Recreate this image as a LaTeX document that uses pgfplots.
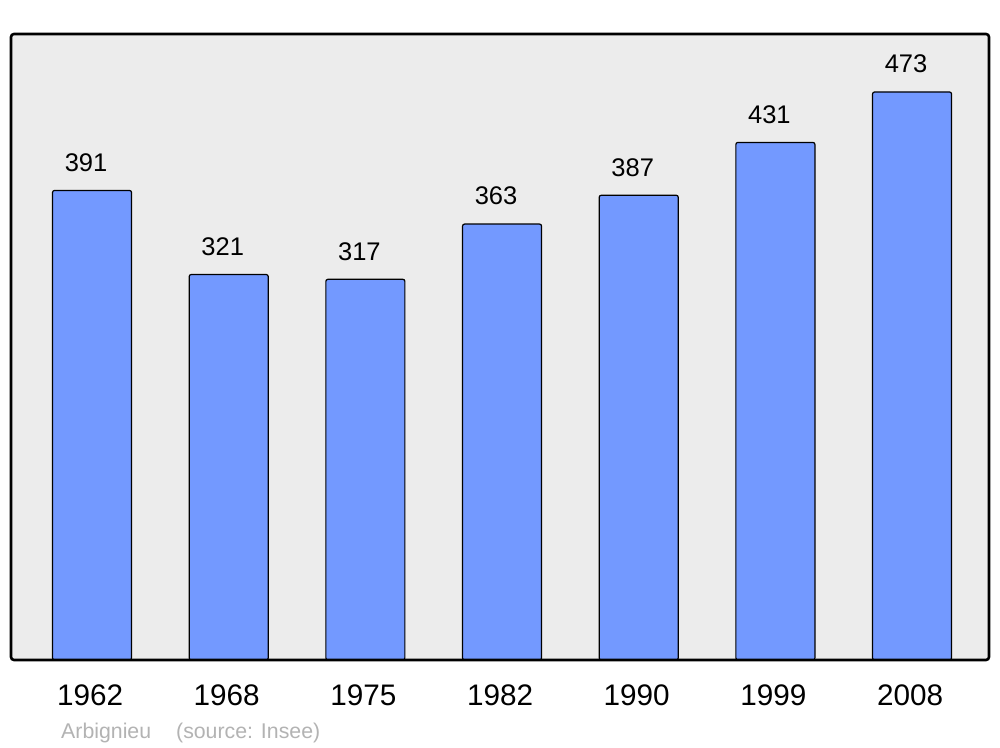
\documentclass[border=0pt]{standalone}
\usepackage{pgfplots}
\pgfplotsset{compat=1.18}
\usepackage{fontspec}
\setmainfont{Liberation Sans}
\definecolor{barblue}{HTML}{7399FF}
\definecolor{bggray}{HTML}{ECECEC}
\definecolor{srcgray}{HTML}{B3B3B3}
\begin{document}
\begin{tikzpicture}[x=1pt,y=1pt]
\useasboundingbox[fill=white] (0,0) rectangle (1000,747);
\begin{axis}[
  at={(11pt,87pt)}, anchor=south west,
  scale only axis, width=978pt, height=626pt,
  xmin=-0.593, xmax=6.563, ymin=0, ymax=521.3,
  axis line style={draw=none},
  ytick=\empty,
  xtick=data,
  xticklabels={1962,1968,1975,1982,1990,1999,2008},
  major tick length=0pt,
  xticklabel style={font=\fontsize{29.7}{34}\selectfont, yshift=-21.5pt, xshift=-2pt},
  /pgf/number format/assume math mode=true,
  clip=false,
  ybar, bar width=79pt,
  nodes near coords,
  nodes near coords style={font=\fontsize{25.5}{30}\selectfont, anchor=south, yshift=15pt, xshift=-6pt},
]
\fill[bggray, rounded corners=3pt] (rel axis cs:0,0) rectangle (rel axis cs:1,1);
\addplot[fill=barblue, draw=black, line width=1.2pt, rounded corners=2pt] coordinates {
(0,391) (1,321) (2,317) (3,363) (4,387) (5,431) (6,473)};
\draw[black, line width=2.6pt, rounded corners=3pt] (rel axis cs:0,0) rectangle (rel axis cs:1,1);
\end{axis}
\node[anchor=base west, text=srcgray, font=\fontsize{21.3}{25}\selectfont, inner sep=0pt] at (61,9) {Arbignieu\hspace{25pt}(source: Insee)};
\end{tikzpicture}
\end{document}
